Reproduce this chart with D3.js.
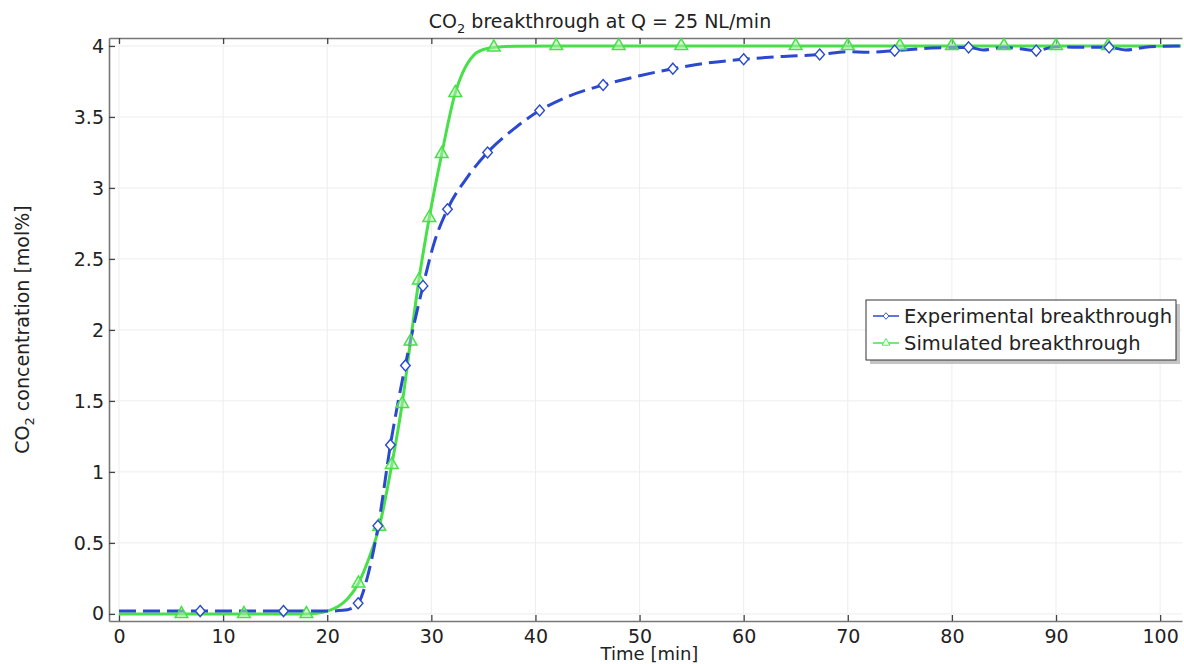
<!DOCTYPE html>
<html>
<head>
<meta charset="utf-8">
<script src="https://cdn.jsdelivr.net/npm/d3@7"></script>
<style>
  body { margin: 0; background: #fff; }
  text { font-family: "DejaVu Sans", sans-serif; fill: #222; }
</style>
</head>
<body>
<svg id="chart" width="1184" height="664"></svg>
<script>
// experimental breakthrough (line)
const expT = [0, 5, 10, 15, 20, 21.5, 22.5, 23, 24, 24.9, 26.07, 27.5, 29.2, 30.3, 31.55, 33.5, 35.4, 38, 40.4, 43, 46.5, 50, 53.2, 56.5, 60, 63.5, 67.3, 70, 72, 74.5, 78, 81.6, 83, 85, 86.5, 88.1, 90, 92, 95.1, 96.7, 99, 102];
const expC = [0.02, 0.02, 0.02, 0.02, 0.02, 0.025, 0.045, 0.075, 0.3, 0.62, 1.19, 1.75, 2.31, 2.62, 2.85, 3.08, 3.25, 3.42, 3.545, 3.64, 3.725, 3.79, 3.84, 3.88, 3.906, 3.925, 3.94, 3.96, 3.955, 3.967, 3.985, 3.99, 3.972, 3.99, 3.98, 3.967, 3.995, 3.99, 3.99, 3.972, 3.995, 4.0];
// experimental markers
const expMarkT = [7.8, 15.8, 22.97, 24.86, 26.07, 27.51, 29.2, 31.55, 35.4, 40.4, 46.5, 53.2, 60.0, 67.3, 74.5, 81.6, 88.1, 95.1];
const expMarkC = [0.02, 0.02, 0.075, 0.62, 1.19, 1.75, 2.31, 2.85, 3.25, 3.545, 3.725, 3.84, 3.906, 3.94, 3.967, 3.99, 3.967, 3.99];

// simulated breakthrough (line)
const simT = [0, 6, 12, 18, 19, 20, 21, 22, 23, 24, 25, 26.2, 27.2, 28, 28.8, 29.8, 31, 32.3, 33, 34, 35, 36, 38, 42, 60, 80, 102];
const simC = [0, 0, 0, 0, 0.005, 0.02, 0.05, 0.11, 0.216, 0.39, 0.615, 1.05, 1.48, 1.92, 2.35, 2.79, 3.24, 3.67, 3.81, 3.93, 3.975, 3.99, 3.998, 4.0, 4.0, 4.0, 4.0];
// simulated markers
const simMarkT = [6, 12, 18, 23, 25, 26.2, 27.2, 28, 28.8, 29.8, 31, 32.3, 36, 42, 48, 54, 65, 70, 75, 80, 85, 90, 95];
const simMarkC = [0, 0, 0, 0.216, 0.615, 1.05, 1.48, 1.92, 2.35, 2.79, 3.24, 3.67, 3.99, 4, 4, 4, 4, 4, 4, 4, 4, 4, 4];

const xTicks = [0, 10, 20, 30, 40, 50, 60, 70, 80, 90, 100];
const yTicks = [0, 0.5, 1, 1.5, 2, 2.5, 3, 3.5, 4];

const blue = '#2b49cf';
const green = '#48e048';

const svg = d3.select('#chart');
const m = {top: 38, right: 2, bottom: 43, left: 109};
const W = 1184, H = 664;
const w = W - m.left - m.right;
const h = H - m.top - m.bottom;

const x = d3.scaleLinear().domain([-0.96, 102.1]).range([0, w]);
const y = d3.scaleLinear().domain([-0.05, 4.056]).range([h, 0]);

const g = svg.append('g').attr('transform', 'translate(' + m.left + ',' + m.top + ')');

g.append('clipPath').attr('id', 'clip')
  .append('rect').attr('x', 0).attr('y', -6).attr('width', w).attr('height', h + 6);

// grid
g.append('g').selectAll('line').data(xTicks).enter().append('line')
  .attr('x1', d => x(d)).attr('x2', d => x(d)).attr('y1', 0).attr('y2', h)
  .attr('stroke', '#ededed').attr('stroke-width', 1);
g.append('g').selectAll('line').data(yTicks).enter().append('line')
  .attr('x1', 0).attr('x2', w).attr('y1', d => y(d)).attr('y2', d => y(d))
  .attr('stroke', '#ededed').attr('stroke-width', 1);

// axes (ticks pointing inward)
const xAxis = d3.axisBottom(x).tickValues(xTicks).tickSizeInner(-6).tickSizeOuter(0).tickPadding(9);
const yAxis = d3.axisLeft(y).tickValues(yTicks).tickSizeInner(-6).tickSizeOuter(0).tickPadding(5)
  .tickFormat(d3.format('~g'));
const xTop = d3.axisTop(x).tickValues(xTicks).tickSizeInner(-6).tickSizeOuter(0).tickFormat('');

function styleAxis(sel) {
  sel.select('.domain').attr('stroke', '#777').attr('stroke-width', 1.6);
  sel.selectAll('.tick line').attr('stroke', '#444').attr('stroke-width', 1.3);
  sel.selectAll('.tick text').style('font-size', '19px').style('font-family', '"DejaVu Sans", sans-serif').attr('fill', '#222');
}
g.append('g').attr('transform', 'translate(0,' + h + ')').call(xAxis).call(styleAxis);
g.append('g').call(yAxis).call(styleAxis);
g.append('g').call(xTop).call(styleAxis);

// lines
const plot = g.append('g').attr('clip-path', 'url(#clip)');
const line = d3.line().x(d => x(d[0])).y(d => y(d[1])).curve(d3.curveMonotoneX);

plot.append('path').datum(simT.map((t, i) => [t, simC[i]]))
  .attr('d', line).attr('fill', 'none').attr('stroke', green).attr('stroke-width', 3);

plot.append('path').datum(expT.map((t, i) => [t, expC[i]]))
  .attr('d', line).attr('fill', 'none').attr('stroke', blue).attr('stroke-width', 3)
  .attr('stroke-dasharray', '17,7');

// markers
const tri = d3.symbol().type(d3.symbolTriangle).size(70);
const dia = 'M0,-5.5L4.8,0L0,5.5L-4.8,0Z';

plot.append('g').selectAll('path').data(simMarkT.map((t, i) => [t, simMarkC[i]])).enter().append('path')
  .attr('d', tri).attr('transform', d => 'translate(' + x(d[0]) + ',' + y(d[1]) + ')')
  .attr('fill', 'rgba(185,240,185,0.5)').attr('stroke', green).attr('stroke-width', 1.5);

plot.append('g').selectAll('path').data(expMarkT.map((t, i) => [t, expMarkC[i]])).enter().append('path')
  .attr('d', dia).attr('transform', d => 'translate(' + x(d[0]) + ',' + y(d[1]) + ')')
  .attr('fill', '#fff').attr('stroke', blue).attr('stroke-width', 1.4);

// title
const title = svg.append('text').attr('x', 600).attr('y', 28).attr('text-anchor', 'middle')
  .style('font-size', '19px');
title.append('tspan').text('CO');
title.append('tspan').attr('dy', 5).style('font-size', '13px').text('2');
title.append('tspan').attr('dy', -5).text(' breakthrough at Q = 25 NL/min');

// axis labels
svg.append('text').attr('x', m.left + w / 2 + 4).attr('y', 660).attr('text-anchor', 'middle')
  .style('font-size', '18px').text('Time [min]');

const yl = svg.append('text').attr('transform', 'translate(29,' + (m.top + h / 2) + ') rotate(-90)')
  .attr('text-anchor', 'middle').style('font-size', '19px');
yl.append('tspan').text('CO');
yl.append('tspan').attr('dy', 5).style('font-size', '13px').text('2');
yl.append('tspan').attr('dy', -5).text(' concentration [mol%]');

// legend
const lg = svg.append('g').attr('transform', 'translate(866,300)');
lg.append('rect').attr('x', 4).attr('y', 4).attr('width', 310).attr('height', 60).attr('fill', '#c4c4c4');
lg.append('rect').attr('width', 310).attr('height', 60).attr('fill', '#fff').attr('stroke', '#333').attr('stroke-width', 1);
const items = [
  {name: 'Experimental breakthrough', color: blue, sym: dia},
  {name: 'Simulated breakthrough', color: green, sym: tri}
];
items.forEach((it, i) => {
  const yy = 16 + i * 27;
  lg.append('line').attr('x1', 7).attr('x2', 33).attr('y1', yy).attr('y2', yy)
    .attr('stroke', it.color).attr('stroke-width', 1.5);
  lg.append('path').attr('d', it.sym).attr('transform', 'translate(20,' + yy + ') scale(0.6)')
    .attr('fill', '#fff').attr('stroke', it.color).attr('stroke-width', 1.5);
  lg.append('text').attr('x', 38).attr('y', yy + 7).style('font-size', '19.5px').text(it.name);
});
</script>
</body>
</html>
